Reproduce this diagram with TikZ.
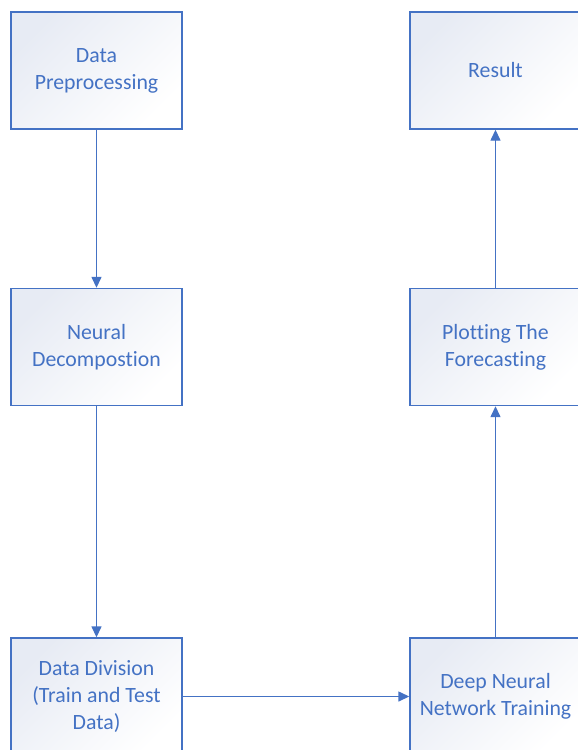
\documentclass[tikz,border=0pt]{standalone}
\usepackage{fontspec}
\setmainfont[Ligatures=NoCommon]{Carlito}
\usepackage{tikz}
\definecolor{flow}{HTML}{4472C4}
\definecolor{shadeA}{HTML}{E7EBF4}
\usetikzlibrary{arrows.meta,positioning}

\begin{document}
\begin{tikzpicture}[x=1pt,y=-1pt,
  box/.style={draw=flow,line width=1.4pt,shading=axis,top color=shadeA,bottom color=white,shading angle=45,
    minimum width=171pt,minimum height=117pt,align=center,text=flow,font=\fontsize{21.8}{27}\selectfont},
  conn/.style={draw=flow,line width=1.4pt,-{Triangle[length=11pt,width=10pt]}}]
\useasboundingbox(0,0)rectangle(578,750);
\node[box](prep)at(96.5,70.5){Data\\Preprocessing};
\node[box](decomp)at(96.5,347){Neural\\Decompostion};
\node[box](division)at(96.5,696.5){Data Division\\(Train and Test\\Data)};
\node[box](training)at(495.5,696.5){Deep Neural\\Network Training};
\node[box](plotting)at(495.5,347){Plotting The\\Forecasting};
\node[box](result)at(495.5,70.5){Result};
\draw[conn](prep)--(decomp);\draw[conn](decomp)--(division);
\draw[conn](division)--(training);
\draw[conn](training)--(plotting);\draw[conn](plotting)--(result);
\end{tikzpicture}
\end{document}
